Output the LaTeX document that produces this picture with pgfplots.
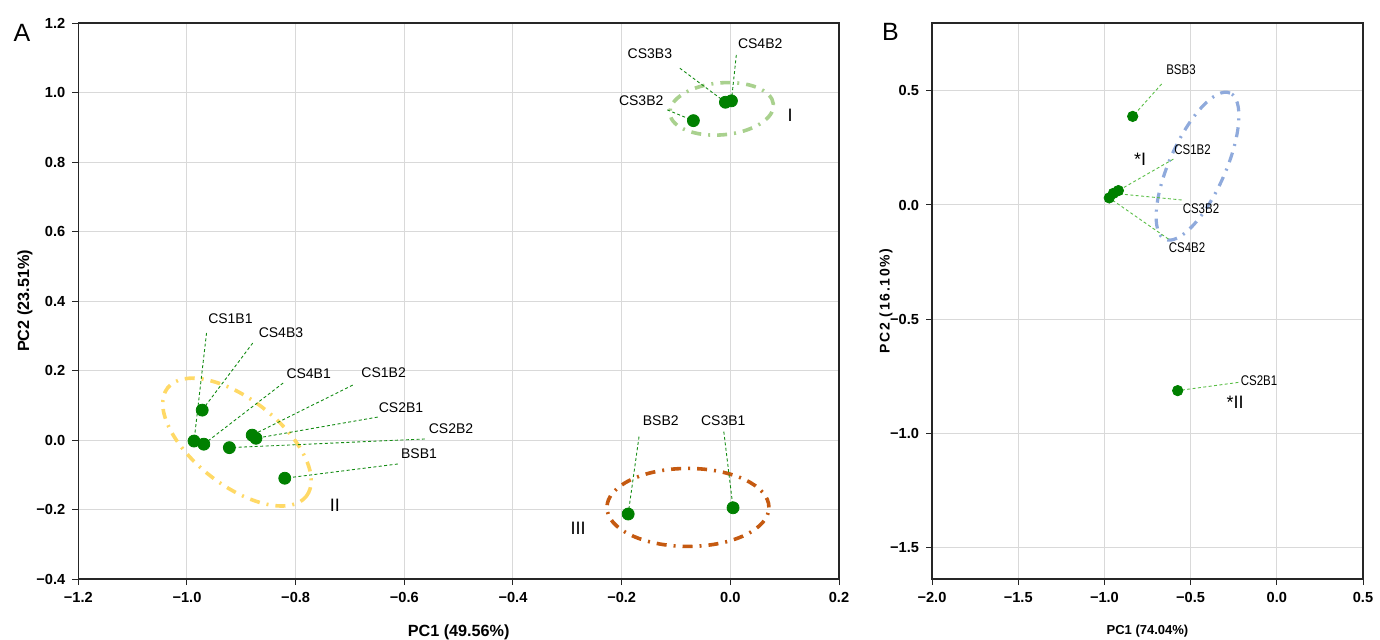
\documentclass[border=0pt]{standalone}
\usepackage{fontspec}
\setmainfont{Liberation Sans}
\newfontfamily\narrowfont[FakeStretch=0.82]{Liberation Sans}
\newfontfamily\widefont[LetterSpace=12]{Liberation Sans}
\usepackage{pgfplots}
\pgfplotsset{compat=1.18}

\definecolor{ptgreen}{RGB}{0,128,0}
\definecolor{leadA}{RGB}{20,140,20}
\definecolor{leadB}{RGB}{90,190,70}
\definecolor{ellI}{RGB}{169,209,142}
\definecolor{ellII}{RGB}{255,217,102}
\definecolor{ellIII}{RGB}{197,90,17}
\definecolor{ellB}{RGB}{143,170,220}
\definecolor{gridgray}{RGB}{217,217,217}

\newcommand\tickfont{\fontsize{7.3}{8}\selectfont\bfseries}

\pgfplotsset{
  pca/.style={
    scale only axis, height=278pt,
    grid=major,
    major grid style={draw=gridgray, line width=0.5pt},
    axis line style={line width=0.6pt, black!85},
    tick align=outside, tick pos=left,
    major tick length=3pt,
    tick style={black!85, line width=0.5pt},
    ticklabel style={font=\tickfont},
    clip=false,
  },
  leader/.style={line width=0.45pt, dash pattern=on 1.5pt off 1.2pt, forget plot},
  pts/.style={only marks, mark=*, mark size=3pt, color=ptgreen, mark options={draw=ptgreen, fill=ptgreen}},
}
\tikzset{
  ell/.style={line width=1.8pt, dash pattern=on 5pt off 3.5pt on 1pt off 3.5pt},
  lblA/.style={font=\fontsize{7}{8}\selectfont, inner sep=0pt},
  lblB/.style={font=\narrowfont\fontsize{7}{8}\selectfont, inner sep=0pt},
  roman/.style={font=\fontsize{9}{10}\selectfont, inner sep=0pt},
}

\begin{document}
\begin{tikzpicture}
\useasboundingbox (0,0) rectangle (690pt,319.5pt);

% ---------------- panel A ----------------
\begin{axis}[pca,
  at={(39.15pt,30pt)}, anchor=south west, width=380.35pt,
  xmin=-1.2, xmax=0.2, ymin=-0.4, ymax=1.2,
  xtick={-1.2,-1.0,-0.8,-0.6,-0.4,-0.2,0,0.2},
  xticklabels={−1.2,−1.0,−0.8,−0.6,−0.4,−0.2,0.0,0.2},
  ytick={-0.4,-0.2,0,0.2,0.4,0.6,0.8,1.0,1.2},
  yticklabels={−0.4,−0.2,0.0,0.2,0.4,0.6,0.8,1.0,1.2},
  xlabel={PC1 (49.56\%)},
  ylabel={PC2 (23.51\%)},
  xlabel style={font=\fontsize{8.1}{9}\selectfont\bfseries, at={(axis description cs:0.5,-0.0953)}, anchor=center},
  ylabel style={font=\fontsize{8.1}{9}\selectfont\bfseries, at={(axis description cs:-0.0701,0.5)}, anchor=center},
]
% groups
\draw[ell, ellI, rotate around={5:(axis cs:-0.016,0.953)}] (axis cs:-0.016,0.953) ellipse [x radius=26pt, y radius=13pt];
\draw[ell, ellII, rotate around={-38:(axis cs:-0.908,-0.006)}] (axis cs:-0.908,-0.006) ellipse [x radius=44pt, y radius=21.5pt];
\draw[ell, ellIII] (axis cs:-0.078,-0.194) ellipse [x radius=40.5pt, y radius=19.5pt];

% leader lines
\addplot[leader, leadA] coordinates {(-0.964,0.308) (-0.987,-0.003)};
\addplot[leader, leadA] coordinates {(-0.879,0.279) (-0.972,0.086)};
\addplot[leader, leadA] coordinates {(-0.823,0.164) (-0.969,-0.012)};
\addplot[leader, leadA] coordinates {(-0.695,0.158) (-0.880,0.014)};
\addplot[leader, leadA] coordinates {(-0.649,0.066) (-0.873,0.005)};
\addplot[leader, leadA] coordinates {(-0.562,0.003) (-0.922,-0.022)};
\addplot[leader, leadA] coordinates {(-0.612,-0.069) (-0.820,-0.110)};
\addplot[leader, leadA] coordinates {(0.011,1.108) (0.002,0.976)};
\addplot[leader, leadA] coordinates {(-0.093,1.070) (-0.009,0.972)};
\addplot[leader, leadA] coordinates {(-0.116,0.950) (-0.068,0.919)};
\addplot[leader, leadA] coordinates {(-0.168,0.010) (-0.188,-0.213)};
\addplot[leader, leadA] coordinates {(-0.012,0.024) (0.005,-0.195)};

% samples
\addplot[pts] table {
x y
-0.987 -0.003
-0.972 0.086
-0.969 -0.012
-0.922 -0.022
-0.880 0.014
-0.873 0.005
-0.820 -0.110
-0.068 0.919
-0.009 0.972
0.002 0.976
-0.188 -0.213
0.005 -0.195
};

% labels
\node[lblA] at (axis cs:-0.920,0.348) {CS1B1};
\node[lblA] at (axis cs:-0.827,0.309) {CS4B3};
\node[lblA] at (axis cs:-0.776,0.190) {CS4B1};
\node[lblA] at (axis cs:-0.638,0.194) {CS1B2};
\node[lblA] at (axis cs:-0.606,0.094) {CS2B1};
\node[lblA] at (axis cs:-0.514,0.032) {CS2B2};
\node[lblA] at (axis cs:-0.573,-0.040) {BSB1};
\node[lblA] at (axis cs:0.055,1.141) {CS4B2};
\node[lblA] at (axis cs:-0.148,1.111) {CS3B3};
\node[lblA] at (axis cs:-0.164,0.977) {CS3B2};
\node[lblA] at (axis cs:-0.128,0.055) {BSB2};
\node[lblA] at (axis cs:-0.013,0.055) {CS3B1};
\node[roman] at (axis cs:0.110,0.935) {I};
\node[roman] at (axis cs:-0.728,-0.187) {II};
\node[roman] at (axis cs:-0.280,-0.254) {III};
\end{axis}

% ---------------- panel B ----------------
\begin{axis}[pca,
  at={(466pt,30pt)}, anchor=south west, width=215.5pt,
  xmin=-2.0, xmax=0.5, ymin=-1.638, ymax=0.797,
  xtick={-2.0,-1.5,-1.0,-0.5,0,0.5},
  xticklabels={−2.0,−1.5,−1.0,−0.5,0.0,0.5},
  ytick={-1.5,-1.0,-0.5,0,0.5},
  yticklabels={−1.5,−1.0,−0.5,0.0,0.5},
  xlabel={PC1 (74.04\%)},
  ylabel={PC2 (16.10\%)},
  xlabel style={font=\fontsize{6.5}{7}\selectfont\bfseries, at={(axis description cs:0.5,-0.0935)}, anchor=center},
  ylabel style={font=\widefont\fontsize{7}{8}\selectfont\bfseries, at={(axis description cs:-0.1067,0.5)}, anchor=center},
]
\draw[ell, ellB, line width=1.6pt, rotate around={66:(axis cs:-0.460,0.170)}] (axis cs:-0.460,0.170) ellipse [x radius=40pt, y radius=14pt];

\addplot[leader, leadB] coordinates {(-0.668,0.530) (-0.836,0.388)};
\addplot[leader, leadB] coordinates {(-0.600,0.201) (-0.919,0.063)};
\addplot[leader, leadB] coordinates {(-0.552,0.022) (-0.948,0.051)};
\addplot[leader, leadB] coordinates {(-0.629,-0.149) (-0.972,0.031)};
\addplot[leader, leadB] coordinates {(-0.223,-0.777) (-0.575,-0.813)};

\addplot[pts, mark size=2.6pt] table {
x y
-0.836 0.388
-0.972 0.031
-0.948 0.051
-0.919 0.063
-0.575 -0.813
};

\node[lblB] at (axis cs:-0.556,0.592) {BSB3};
\node[lblB] at (axis cs:-0.489,0.242) {CS1B2};
\node[lblB] at (axis cs:-0.440,-0.014) {CS3B2};
\node[lblB] at (axis cs:-0.521,-0.189) {CS4B2};
\node[lblB] at (axis cs:-0.103,-0.771) {CS2B1};
\node[roman] at (axis cs:-0.793,0.201) {*I};
\node[roman] at (axis cs:-0.242,-0.864) {*II};
\end{axis}

% panel letters
\node[font=\fontsize{12.5}{13}\selectfont, inner sep=0pt] at (11pt,303pt) {A};
\node[font=\fontsize{12.5}{13}\selectfont, inner sep=0pt] at (445.25pt,303.5pt) {B};
\end{tikzpicture}
\end{document}
